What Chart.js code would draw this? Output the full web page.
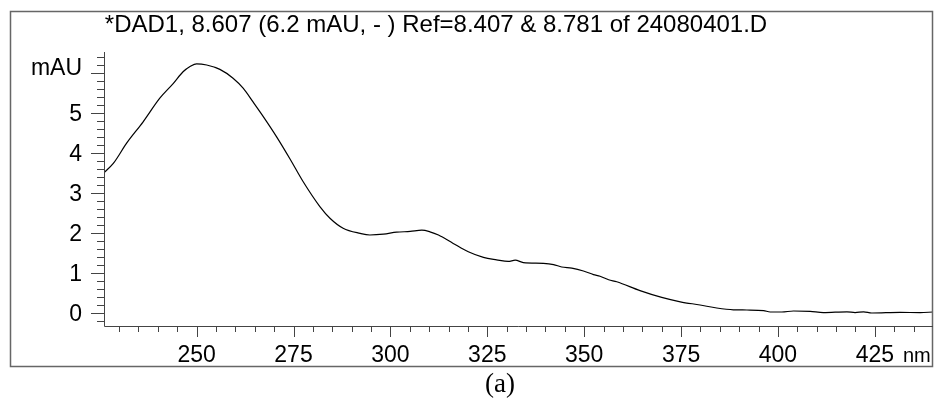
<!DOCTYPE html>
<html>
<head>
<meta charset="utf-8">
<script src="https://cdn.jsdelivr.net/npm/chart.js"></script>
<style>
  body { margin: 0; background: #fff; }
  #wrap { width: 935px; height: 406px; position: relative; }
</style>
</head>
<body>
<div id="wrap"><canvas id="dadChart"></canvas></div>
<script>
// spectrum
var wavelengths = [226.1, 228.5, 231.9, 236.2, 240.5, 244.0, 246.5, 248.3, 250.0, 252.6,
  256.0, 259.4, 262.0, 264.6, 267.2, 270.6, 274.1, 277.5, 281.8, 284.4,
  287.8, 292.2, 294.7, 298.2, 301.6, 305.1, 308.1, 310.2, 312.4, 316.2,
  320.1, 324.0, 327.4, 330.4, 332.2, 334.3, 339.5, 342.1, 344.2, 346.8,
  349.8, 352.4, 354.1, 356.3, 358.4, 364.4, 370.0, 374.8, 379.9, 384.2,
  388.5, 392.0, 396.3, 398.0, 401.0, 404.0, 408.3, 411.7, 417.8, 419.9,
  422.1, 424.2, 431.5, 436.7, 440.0];
var absorbance = [3.51, 3.74, 4.24, 4.78, 5.37, 5.74, 6.03, 6.16, 6.23, 6.20,
  6.09, 5.87, 5.62, 5.27, 4.91, 4.41, 3.85, 3.28, 2.66, 2.37,
  2.12, 1.99, 1.95, 1.97, 2.02, 2.04, 2.07, 2.03, 1.95, 1.74,
  1.53, 1.39, 1.33, 1.29, 1.32, 1.26, 1.24, 1.21, 1.15, 1.12,
  1.05, 0.96, 0.92, 0.83, 0.78, 0.56, 0.39, 0.28, 0.20, 0.125,
  0.08, 0.075, 0.06, 0.025, 0.025, 0.05, 0.04, 0.01, 0.03, 0.01,
  0.03, 0.0, 0.015, 0.01, 0.025];

var xLabels = [250, 275, 300, 325, 350, 375, 400, 425];
var yLabels = [0, 1, 2, 3, 4, 5];
var titleText = '*DAD1, 8.607 (6.2 mAU, - ) Ref=8.407 & 8.781 of 24080401.D';

var points = wavelengths.map(function(w, i){ return {x: w, y: absorbance[i]}; });

// axes, ticks and texts drawn by hand, Agilent style
var frame = {
  id: 'frame',
  afterDraw: function(chart){
    var c = chart.ctx;
    var a = chart.chartArea;
    var sx = chart.scales.x, sy = chart.scales.y;
    c.save();
    c.strokeStyle = '#666';
    c.lineWidth = 1.5;
    c.strokeRect(10.5, 11.5, 922, 355);

    c.strokeStyle = '#444';
    c.lineWidth = 1;
    c.beginPath();
    c.moveTo(a.left + 0.5, a.top);
    c.lineTo(a.left + 0.5, a.bottom + 0.5);
    c.lineTo(a.right, a.bottom + 0.5);
    // y ticks every 0.2
    for (var i = -1; i <= 32; i++) {
      var v = i / 5;
      var py = Math.round(sy.getPixelForValue(v)) + 0.5;
      if (py < a.top || py > a.bottom) continue;
      var len = (i % 5 === 0) ? 13 : 7;
      c.moveTo(a.left, py);
      c.lineTo(a.left - len, py);
    }
    // x ticks every 5 nm
    for (var w = 230; w <= 440; w += 5) {
      var px = Math.round(sx.getPixelForValue(w)) + 0.5;
      if (px < a.left || px > a.right) continue;
      var l2 = (w % 25 === 0) ? 11 : 6;
      c.moveTo(px, a.bottom);
      c.lineTo(px, a.bottom + l2);
    }
    c.stroke();

    c.fillStyle = '#000';
    c.font = '23px "Liberation Sans", Arial, sans-serif';
    c.textAlign = 'right';
    c.textBaseline = 'alphabetic';
    yLabels.forEach(function(v){
      c.fillText(String(v), 82, sy.getPixelForValue(v) + 8);
    });
    c.fillText('mAU', 82, 75);
    c.textAlign = 'center';
    xLabels.forEach(function(w){
      c.fillText(String(w), sx.getPixelForValue(w), 362);
    });
    c.font = '20px "Liberation Sans", Arial, sans-serif';
    c.textAlign = 'left';
    c.fillText('nm', 903, 362);

    c.font = '24px "Liberation Sans", Arial, sans-serif';
    c.textAlign = 'center';
    c.fillText(titleText, 436, 32);

    c.font = '27px "Liberation Serif", "Times New Roman", serif';
    c.fillText('(a)', 500, 392);
    c.restore();
  }
};

var ctx = document.getElementById('dadChart').getContext('2d');
var dadChart = new Chart(ctx, {
  type: 'scatter',
  data: {
    datasets: [{
      data: points,
      showLine: true,
      borderColor: '#000',
      borderWidth: 1.2,
      pointRadius: 0,
      cubicInterpolationMode: 'monotone'
    }]
  },
  options: {
    responsive: true,
    maintainAspectRatio: false,
    animation: false,
    layout: { padding: { left: 104, top: 52, right: 2, bottom: 80 } },
    plugins: { legend: { display: false }, tooltip: { enabled: false } },
    scales: {
      x: { type: 'linear', min: 226.1, max: 440, display: false },
      y: { min: -0.325, max: 6.525, display: false }
    }
  },
  plugins: [frame]
});
</script>
</body>
</html>
